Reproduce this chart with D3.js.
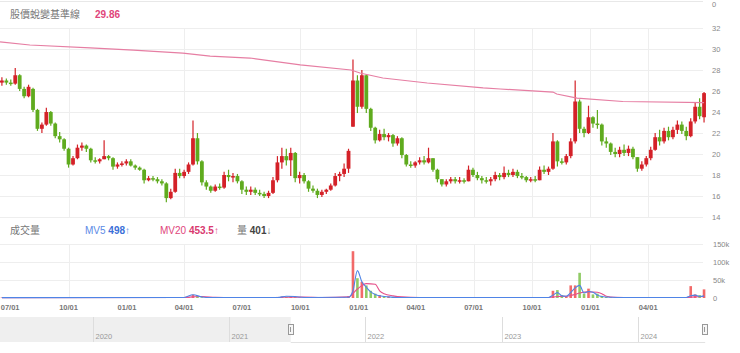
<!DOCTYPE html>
<html>
<head>
<meta charset="utf-8">
<script src="https://cdn.jsdelivr.net/npm/d3@7"></script>
<style>
  body { margin: 0; background: #fff; }
  svg { display: block; font-family: "Liberation Sans", "Noto Sans CJK TC", sans-serif; }
  .grid line { stroke: #eeeeee; stroke-width: 1; }
  .axisLabel { font-size: 7.5px; fill: #888; }
</style>
</head>
<body>
<svg id="chart" width="740" height="353"></svg>
<script>
// weekly candles, first week ending 2021-06-18
let firstWeek = new Date(2021, 5, 18);

let opens = [
  26.8,27.0,26.8,26.7,27.5,26.2,25.5,26.2,24.2,22.4,
  22.8,24.0,22.9,21.7,21.4,20.5,19.0,19.6,20.6,20.8,
  20.5,19.4,19.3,19.5,19.8,19.6,18.8,19.0,19.1,19.3,
  18.9,18.7,18.5,17.5,17.7,17.6,17.4,17.2,15.8,16.4,
  18.2,17.9,18.3,19.0,21.5,19.3,17.3,16.9,16.5,16.9,
  16.8,18.0,17.8,17.9,17.4,16.6,16.4,16.6,16.3,16.2,
  16.0,16.3,17.5,19.2,19.8,19.4,20.1,17.7,18.0,17.4,
  16.7,16.5,16.1,16.4,16.6,17.0,17.9,18.1,18.6,22.6,
  27.0,24.5,27.5,24.3,22.5,21.3,21.9,21.6,21.8,21.0,
  21.5,19.9,19.0,18.9,19.2,19.4,19.2,19.6,18.5,17.6,
  17.1,17.4,17.6,17.4,17.5,17.4,18.5,18.0,17.7,17.5,
  17.4,17.6,18.0,17.8,18.2,18.0,18.3,17.9,17.8,17.5,
  17.6,17.5,18.5,18.3,18.6,21.2,19.3,19.2,19.8,21.2,
  25.0,22.4,22.0,23.5,22.9,22.8,21.2,21.0,20.2,20.0,
  20.4,20.1,20.5,19.7,18.6,19.0,19.6,20.4,21.6,21.2,
  22.2,21.6,22.3,22.8,22.2,21.7,23.1,24.5,23.5
];
let highs = [
  27.3,27.2,27.1,28.2,27.6,26.4,26.6,26.3,24.3,23.0,
  24.4,24.1,23.0,22.1,21.5,20.6,19.8,20.9,21.1,20.9,
  20.6,19.7,19.6,21.3,19.9,19.7,19.2,19.3,19.5,19.5,
  19.0,18.8,18.6,17.9,17.9,17.8,17.6,17.3,16.7,18.6,
  18.6,18.5,19.2,23.2,22.0,19.4,17.5,17.0,17.1,17.2,
  18.3,18.5,18.2,18.1,17.5,16.9,16.9,16.8,16.6,16.4,
  16.5,17.8,19.8,20.6,20.5,20.6,20.2,18.3,18.2,17.5,
  17.0,16.7,16.6,16.7,17.2,18.2,18.3,19.1,20.5,29.0,
  27.5,28.0,27.6,24.4,22.6,22.3,22.4,22.0,21.9,21.7,
  21.6,20.0,19.3,19.3,19.7,19.8,20.6,19.6,18.6,17.6,
  17.6,17.8,17.8,17.8,17.7,18.9,18.7,18.3,17.9,17.8,
  17.8,18.3,18.2,18.8,18.5,18.6,18.5,18.2,17.9,17.8,
  17.9,18.8,18.9,18.8,22.0,21.3,19.6,20.0,21.5,27.0,
  25.2,22.6,24.6,23.6,24.2,22.9,21.6,21.1,20.6,20.7,
  20.9,20.8,20.7,19.7,19.3,19.8,20.7,22.0,22.3,22.5,
  22.6,22.6,23.2,23.1,22.6,23.4,24.9,25.3,25.9
];
let lows = [
  26.5,26.6,26.5,26.6,26.0,25.3,25.4,24.0,22.2,22.0,
  22.7,22.7,21.5,21.1,20.3,18.7,18.9,19.5,20.3,20.2,
  19.2,19.1,19.1,19.5,19.4,18.5,18.6,18.8,18.9,18.8,
  18.5,18.4,17.2,17.4,17.4,17.2,17.0,15.4,15.7,16.3,
  17.7,17.7,18.1,18.9,19.0,17.0,16.6,16.3,16.4,16.6,
  16.7,17.4,17.3,17.2,16.2,16.1,16.1,16.1,16.0,15.8,
  15.8,16.2,17.3,18.6,18.9,17.9,17.3,17.2,17.2,16.4,
  16.3,15.8,15.9,16.2,16.5,16.9,17.4,17.8,18.2,22.6,
  23.9,24.3,23.9,22.2,21.0,21.2,21.3,21.2,20.7,20.8,
  19.6,18.8,18.7,18.7,19.0,19.0,19.1,18.3,17.3,16.9,
  16.9,17.2,17.2,17.2,17.2,17.4,17.8,17.5,17.2,17.2,
  17.0,17.4,17.5,17.6,17.8,17.8,17.7,17.6,17.3,17.3,
  17.3,17.5,18.1,18.0,18.5,18.8,19.0,19.0,19.6,21.0,
  22.0,21.6,21.9,22.5,22.4,20.8,20.6,19.9,19.7,19.7,
  19.8,19.8,19.5,18.3,18.4,18.8,19.4,20.3,20.8,21.0,
  21.3,21.4,21.9,21.9,21.3,21.6,22.9,23.3,23.0
];
let closes = [
  27.0,26.8,26.7,27.5,26.2,25.5,26.4,24.2,22.4,22.8,
  24.0,22.9,21.7,21.4,20.5,19.0,19.6,20.6,20.8,20.5,
  19.4,19.3,19.5,19.8,19.6,18.8,19.0,19.1,19.3,18.9,
  18.7,18.5,17.5,17.7,17.6,17.4,17.2,15.8,16.4,18.2,
  17.9,18.3,19.0,21.5,19.3,17.3,16.9,16.5,16.9,16.8,
  18.0,17.8,17.9,17.4,16.6,16.4,16.6,16.3,16.2,16.0,
  16.3,17.5,19.2,19.8,19.4,20.1,17.7,18.0,17.4,16.7,
  16.5,16.1,16.4,16.6,17.0,17.9,18.1,18.6,20.3,27.0,
  24.5,27.5,24.3,22.5,21.3,21.9,21.6,21.8,21.0,21.5,
  19.9,19.0,18.9,19.2,19.4,19.2,19.6,18.5,17.6,17.1,
  17.4,17.6,17.4,17.5,17.4,18.5,18.0,17.7,17.5,17.4,
  17.6,18.0,17.8,18.2,18.0,18.3,17.9,17.8,17.5,17.6,
  17.5,18.5,18.3,18.6,21.2,19.3,19.2,19.8,21.2,25.0,
  22.4,22.0,23.5,22.9,22.8,21.2,21.0,20.2,20.0,20.4,
  20.1,20.5,19.7,18.6,19.0,19.6,20.4,21.6,21.2,22.2,
  21.6,22.3,22.8,22.2,21.7,23.1,24.5,23.6,25.8
];
// weekly volume, thousands
let volumes = [
  1.2,1.0,1.5,2.0,1.2,1.5,1.0,1.3,1.8,1.2,
  1.5,1.0,1.2,0.9,1.0,1.6,1.0,1.2,1.0,0.8,
  1.0,0.8,0.7,1.5,0.8,0.9,0.7,0.8,0.7,0.8,
  0.7,0.6,1.0,0.7,0.6,0.7,0.6,1.5,1.2,1.8,
  1.0,1.5,2.5,9.0,5.0,2.0,1.0,0.8,0.7,0.6,
  1.2,0.9,0.8,0.7,0.8,0.6,0.6,0.5,0.6,0.5,
  0.7,1.5,3.0,4.0,3.0,4.5,2.5,1.2,1.0,0.8,
  0.7,0.8,0.6,0.7,0.8,1.2,1.0,1.5,5.0,130,
  55,45,35,20,12,8,5,4,3,3,
  2.5,2,1.5,1.2,1.2,1,1.5,1.2,1.5,1,
  0.8,0.8,0.7,0.7,0.6,1.5,1,0.8,0.7,0.6,
  0.7,1,0.8,1.2,0.8,0.9,0.8,0.7,0.7,0.6,
  0.7,1.5,1,1.2,20,22,8,5,35,35,
  70,12,26,10,12,6,3,2.5,2,2,
  1.5,1.5,1.2,1.5,1,1.2,1.5,2,1.5,1.5,
  1.2,1.5,1.5,1.2,1.0,33,10,8,24
];
// moving averages as [week index, thousands]
let mv5Points = [
  [0,1],[41,1.5],[43,9],[45,3],[47,1.2],[62,1.2],[64,5],[66,4],[68,1.5],
  [78,2],[79,20],[80,76],[81,45],[82,30],[83,17],[84,10],[85,6],[87,3],[89,1.5],
  [123,1.5],[124,8],[125,15],[126,6],[127,5],[128,15],[129,28],[130,35],[131,14],
  [132,18],[133,16],[134,8],[135,4],[137,2],[140,1.2],[154,1.5],[155,6],[156,8],[157,4],[158,6]
];
let mv20Points = [
  [0,1],[41,1.5],[43,3],[45,4],[48,2],[52,1.2],[62,1.5],[65,2.5],[68,2.5],[72,1.5],
  [78,3],[80,25],[82,40],[84,38],[85,20],[86,12],[88,6],[90,3],[94,1.5],[110,1.2],
  [123,1.5],[125,4],[127,5],[129,10],[130,14],[132,17],[134,16],[135,12],[136,5],[138,2],
  [142,1.3],[154,1.5],[156,3],[158,4]
];
// 蛻變基準線
let baselineDates = ["2021-06-15","2021-08-01","2021-11-04","2022-01-11","2022-03-30","2022-05-12",
  "2022-07-14","2022-10-01","2022-12-20","2023-01-03","2023-02-08","2023-04-19","2023-07-16",
  "2023-08-12","2023-11-03","2023-11-09","2023-12-11","2024-02-21","2024-06-28"];
let baselineValues = [30.67,30.38,30.10,29.90,29.60,29.33,29.14,28.48,28.00,27.71,27.24,26.76,
  26.29,26.19,25.90,25.71,25.33,25.0,24.9];

let priceTicks = [14,16,18,20,22,24,26,28,30,32];
let volumeTicks = [0,50,100,150];
let gridDates = ["2021-10-01","2022-04-01","2022-10-01","2023-04-01","2023-07-01","2023-10-01","2024-01-01","2024-04-01"];
let years = [2020,2021,2022,2023,2024];

function getConfig(){
  let svg = d3.select("#chart");
  return {
    svg,
    plotLeft: 0,
    plotRight: 703,
    price: {top: 28, bottom: 217},
    volume: {top: 244, bottom: 298},
    nav: {top: 317, bottom: 342},
    labelX: 712
  }
}

function getScales(config){
  let parse = d3.timeParse("%Y-%m-%d");
  let xScale = d3.scaleTime()
    .domain([new Date(2021, 5, 15), new Date(2024, 5, 29, 12)])
    .range([0, 705]);
  let yPrice = d3.scaleLinear().domain([14, 32]).range([config.price.bottom, config.price.top]);
  let yVol = d3.scaleLinear().domain([0, 150]).range([config.volume.bottom, config.volume.top]);
  let navX = d3.scaleTime()
    .domain([new Date(2019, 3, 28), new Date(2024, 5, 29)])
    .range([0, 705]);
  return {parse, xScale, yPrice, yVol, navX}
}

function drawGrid(config, scales){
  let {svg, plotRight, price, volume} = config;
  let {xScale, yPrice, yVol, parse} = scales;

  // remnant of the panel above
  svg.append("line").attr("x1", 0).attr("x2", plotRight).attr("y1", 1.5).attr("y2", 1.5)
    .attr("stroke", "#e8e8e8");
  svg.append("text").attr("class", "axisLabel").attr("x", config.labelX).attr("y", 6.5).text("0");

  let g = svg.append("g").attr("class", "grid");
  g.selectAll(".hp").data(priceTicks).enter().append("line")
    .attr("x1", 0).attr("x2", plotRight)
    .attr("y1", d => Math.round(yPrice(d)) + 0.5).attr("y2", d => Math.round(yPrice(d)) + 0.5);
  g.selectAll(".hv").data(volumeTicks.filter(d => d > 0)).enter().append("line")
    .attr("x1", 0).attr("x2", plotRight)
    .attr("y1", d => Math.round(yVol(d)) + 0.5).attr("y2", d => Math.round(yVol(d)) + 0.5);
  gridDates.forEach(s => {
    let x = Math.round(xScale(parse(s))) + 0.5;
    g.append("line").attr("x1", x).attr("x2", x).attr("y1", price.top).attr("y2", price.bottom);
    g.append("line").attr("x1", x).attr("x2", x).attr("y1", volume.top).attr("y2", volume.bottom);
  });

  svg.selectAll(".priceLabel").data(priceTicks).enter().append("text")
    .attr("class", "axisLabel")
    .attr("x", config.labelX).attr("y", d => yPrice(d) + 2.7)
    .text(d => d);
  svg.selectAll(".volLabel").data(volumeTicks).enter().append("text")
    .attr("class", "axisLabel")
    .attr("x", config.labelX + 1).attr("y", d => yVol(d) + 2.7)
    .text(d => d === 0 ? "0" : d + "k");

  // month labels
  let months = xScale.ticks(d3.timeMonth.every(3));
  svg.selectAll(".monthLabel").data(months).enter().append("text")
    .attr("class", "axisLabel")
    .attr("x", d => xScale(d)).attr("y", 310)
    .attr("text-anchor", "middle")
    .style("fill", "#777").style("font-weight", "bold")
    .text(d3.timeFormat("%m/%d"));
}

function drawCandles(config, scales, dates){
  let {svg} = config;
  let {xScale, yPrice} = scales;
  let up = "#d42128", down = "#5fab1e";
  let data = dates.map((d, i) => ({date: d, o: opens[i], h: highs[i], l: lows[i], c: closes[i]}));

  let g = svg.append("g").attr("class", "candles");
  g.selectAll(".wick").data(data).enter().append("line")
    .attr("x1", d => xScale(d.date)).attr("x2", d => xScale(d.date))
    .attr("y1", d => yPrice(d.h)).attr("y2", d => yPrice(d.l))
    .attr("stroke", d => d.c >= d.o ? up : down)
    .attr("stroke-width", 1.2);
  g.selectAll(".body").data(data).enter().append("rect")
    .attr("x", d => xScale(d.date) - 1.9)
    .attr("width", 3.8)
    .attr("y", d => yPrice(Math.max(d.o, d.c)))
    .attr("height", d => Math.max(1.5, Math.abs(yPrice(d.o) - yPrice(d.c))))
    .attr("fill", d => d.c >= d.o ? up : down);

  let line = d3.line()
    .x(d => xScale(d.date))
    .y(d => yPrice(d.value));
  let base = baselineDates.map((s, i) => ({date: scales.parse(s), value: baselineValues[i]}));
  svg.append("path").datum(base)
    .attr("d", line)
    .attr("fill", "none")
    .attr("stroke", "#e67ea3")
    .attr("stroke-width", 1.2);
}

function drawVolume(config, scales, dates){
  let {svg, volume} = config;
  let {xScale, yVol} = scales;
  let g = svg.append("g").attr("class", "volume");

  g.selectAll("rect").data(volumes).enter().append("rect")
    .attr("x", (d, i) => xScale(dates[i]) - 1.3)
    .attr("width", 2.6)
    .attr("y", d => yVol(d))
    .attr("height", d => volume.bottom - yVol(d))
    .attr("fill", (d, i) => closes[i] >= opens[i] ? "#f0504f" : "#7cc24a")
    .attr("opacity", 0.85);

  let line = d3.line()
    .x(d => xScale(dates[d[0]]))
    .y(d => yVol(d[1]))
    .curve(d3.curveMonotoneX);
  g.append("path").datum(mv20Points).attr("d", line)
    .attr("fill", "none").attr("stroke", "#e6508a").attr("stroke-width", 1.1);
  g.append("path").datum(mv5Points).attr("d", line)
    .attr("fill", "none").attr("stroke", "#4f84e6").attr("stroke-width", 1.1);
}

function drawHeaders(config){
  let {svg} = config;
  let t = svg.append("text").attr("x", 10).attr("y", 18).style("font-size", "10px");
  t.append("tspan").attr("fill", "#777").text("股價蛻變基準線");
  t.append("tspan").attr("x", 95).attr("fill", "#e0457b").style("font-weight", "bold").text("29.86");

  let v = svg.append("text").attr("y", 234).style("font-size", "10px");
  v.append("tspan").attr("x", 10).attr("fill", "#777").text("成交量");
  v.append("tspan").attr("x", 85).attr("fill", "#5b8ae6").text("MV5 ");
  v.append("tspan").attr("fill", "#3b6fd8").style("font-weight", "bold").text("498");
  v.append("tspan").attr("fill", "#5b8ae6").text("↑");
  v.append("tspan").attr("x", 160).attr("fill", "#e0457b").text("MV20 ");
  v.append("tspan").attr("fill", "#d93a70").style("font-weight", "bold").text("453.5");
  v.append("tspan").attr("fill", "#e0457b").text("↑");
  v.append("tspan").attr("x", 237).attr("fill", "#777").text("量 ");
  v.append("tspan").attr("fill", "#444").style("font-weight", "bold").text("401");
  v.append("tspan").attr("fill", "#777").text("↓");
}

function drawNavigator(config, scales){
  let {svg, nav} = config;
  let {navX, xScale} = scales;
  let [start, end] = xScale.domain();
  let x0 = navX(start), x1 = navX(end);
  let h = nav.bottom - nav.top;

  svg.append("rect").attr("x", 0).attr("y", nav.top).attr("width", x0).attr("height", h)
    .attr("fill", "#efefef");
  svg.append("line").attr("x1", x0).attr("x2", x1).attr("y1", nav.bottom + 0.5).attr("y2", nav.bottom + 0.5)
    .attr("stroke", "#e2e2e2");

  years.forEach(y => {
    let x = Math.round(navX(new Date(y, 0, 1))) + 0.5;
    svg.append("line").attr("x1", x).attr("x2", x).attr("y1", nav.top).attr("y2", nav.bottom)
      .attr("stroke", "#dddddd");
    svg.append("text").attr("class", "axisLabel").attr("x", x + 2).attr("y", 339)
      .style("fill", "#999").text(y);
  });

  [x0, x1].forEach(x => {
    svg.append("rect").attr("x", Math.round(x) - 2.5).attr("y", 324.5).attr("width", 5).attr("height", 10)
      .attr("fill", "#f6f6f6").attr("stroke", "#999").attr("stroke-width", 1);
    svg.append("line").attr("x1", Math.round(x) - 0.5).attr("x2", Math.round(x) - 0.5)
      .attr("y1", 327).attr("y2", 332).attr("stroke", "#999");
  });
}

function drawChart(){
  let config = getConfig();
  let scales = getScales(config);
  let dates = opens.map((d, i) => d3.timeDay.offset(firstWeek, 7 * i));
  drawGrid(config, scales);
  drawHeaders(config);
  drawVolume(config, scales, dates);
  drawCandles(config, scales, dates);
  drawNavigator(config, scales);
}

drawChart();
</script>
</body>
</html>
